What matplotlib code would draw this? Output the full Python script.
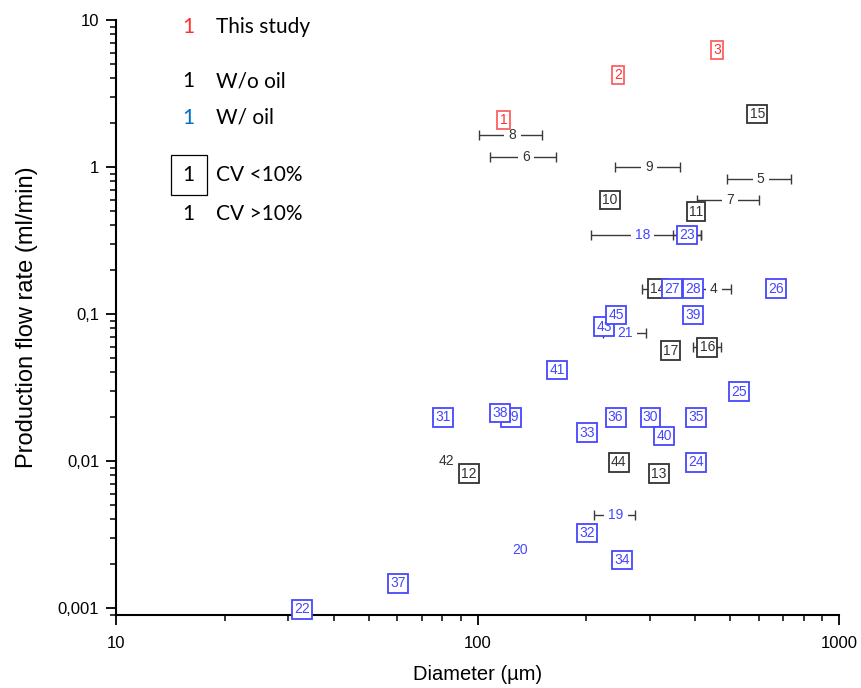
import numpy as np
import matplotlib.pyplot as plt
from matplotlib.patches import Rectangle
from matplotlib.ticker import LogLocator, FixedLocator, FixedFormatter, NullFormatter

# This study (red, boxed)
study_ids = [1, 2, 3]
study_d = [118, 245, 460]
study_q = [2.09, 4.23, 6.25]

# W/o oil, CV < 10% (black, boxed)
nooil_box_ids = [10, 11, 12, 13, 14, 15, 16, 17, 44]
nooil_box_d = [232, 402, 94.5, 317, 316, 594, 432, 342, 246]
nooil_box_q = [0.596, 0.497, 0.0082, 0.0082, 0.149, 2.29, 0.0593, 0.0563, 0.0098]

# W/o oil, CV > 10% (black, plain)
nooil_ids = [4, 5, 6, 7, 8, 9, 42]
nooil_d = [451, 607, 136, 499, 125, 298, 82.3]
nooil_q = [0.149, 0.825, 1.175, 0.596, 1.66, 1.0, 0.00995]

# W/ oil, CV < 10% (blue, boxed)
oil_box_ids = [22, 23, 24, 25, 26, 27, 28, 29, 30, 31, 32, 33, 34, 35, 36,
               37, 38, 39, 40, 41, 43, 45]
oil_box_d = [32.7, 380, 402, 528, 670, 345, 394, 124, 301, 80.4, 201, 201,
             251, 403, 241, 60.3, 115.6, 395, 328, 166, 224, 241.5]
oil_box_q = [0.00098, 0.345, 0.0098, 0.0296, 0.149, 0.149, 0.149, 0.0198,
             0.0198, 0.0198, 0.00325, 0.0156, 0.00212, 0.0198, 0.0198,
             0.00147, 0.0213, 0.0985, 0.0148, 0.0416, 0.082, 0.0985]

# W/ oil, CV > 10% (blue, plain)
oil_ids = [18, 19, 20, 21]
oil_d = [286, 241.5, 131, 256.5]
oil_q = [0.345, 0.00428, 0.00247, 0.074]

# diameter ranges shown as horizontal bars (µm)
range_ids = [4, 5, 6, 7, 8, 9, 14, 16, 18, 19, 21, 23]
range_lo = [404, 489, 108, 404, 101, 240, 286, 394, 206, 210, 223, 347]
range_hi = [502, 735, 165, 602, 151, 363, 351, 471, 415, 272, 292, 415]

RED = '#ff3030'
BLUE = '#4646ff'
DARK = '#333333'

plt.rcParams['font.family'] = 'sans-serif'
plt.rcParams['font.sans-serif'] = ['Liberation Sans']

fig = plt.figure(figsize=(8.61, 6.88), dpi=100)
ax = fig.add_axes([116 / 861, 1 - 615 / 688, 723 / 861, 595 / 688])

ax.set_xscale('log')
ax.set_yscale('log')
ax.set_xlim(10, 1000)
ax.set_ylim(10 ** -3.0476, 10)

# lookup of every point for the range bars
pos = {}
for ids, d, q in [(study_ids, study_d, study_q),
                  (nooil_box_ids, nooil_box_d, nooil_box_q),
                  (nooil_ids, nooil_d, nooil_q),
                  (oil_box_ids, oil_box_d, oil_box_q),
                  (oil_ids, oil_d, oil_q)]:
    for i, x, y in zip(ids, d, q):
        pos[i] = (x, y)

for i, lo, hi in zip(range_ids, range_lo, range_hi):
    x, y = pos[i]
    ax.errorbar([x], [y], xerr=[[x - lo], [hi - x]], fmt='none',
                ecolor='#3a3a3a', elinewidth=1.0, capsize=3.5, capthick=1.0,
                zorder=2)


def put_labels(ids, d, q, color, boxed, edge=None):
    for i, x, y in zip(ids, d, q):
        if boxed:
            bb = dict(boxstyle='square,pad=0.16', fc='white',
                      ec=edge or color, lw=1.3)
        else:
            bb = dict(boxstyle='square,pad=0.3', fc='white', ec='none')
        ax.text(x, y, str(i), ha='center', va='center', color=color,
                fontsize=10, bbox=bb, zorder=3, clip_on=False)


put_labels(nooil_ids, nooil_d, nooil_q, DARK, False)
put_labels(oil_ids, oil_d, oil_q, BLUE, False)
put_labels(nooil_box_ids, nooil_box_d, nooil_box_q, DARK, True)
put_labels(oil_box_ids, oil_box_d, oil_box_q, BLUE, True)
put_labels(study_ids, study_d, study_q, RED, True, edge='#ff6060')

# axes styling
for side in ['top', 'right']:
    ax.spines[side].set_visible(False)
for side in ['left', 'bottom']:
    ax.spines[side].set_linewidth(1.5)

ax.xaxis.set_major_locator(FixedLocator([10, 100, 1000]))
ax.xaxis.set_major_formatter(FixedFormatter(['10', '100', '1000']))
ax.xaxis.set_minor_locator(LogLocator(base=10, subs=np.arange(2, 10)))
ax.xaxis.set_minor_formatter(NullFormatter())
ax.yaxis.set_major_locator(FixedLocator([0.001, 0.01, 0.1, 1, 10]))
ax.yaxis.set_major_formatter(FixedFormatter(['0,001', '0,01', '0,1', '1', '10']))
ax.yaxis.set_minor_locator(LogLocator(base=10, subs=np.arange(2, 10)))
ax.yaxis.set_minor_formatter(NullFormatter())

ax.tick_params(which='major', direction='out', length=7, width=1.3,
               labelsize=12, colors='black', pad=5)
ax.tick_params(axis='x', which='major', pad=8)
ax.tick_params(which='minor', direction='out', length=4, width=1.1)

ax.set_xlabel('Diameter (µm)', fontsize=14.5, labelpad=10)
ax.set_ylabel('Production flow rate (ml/min)', fontsize=17, labelpad=14)

# legend drawn as free text
LEG = ['Lato', 'DejaVu Sans']
lx, tx = 188 / 861, 216 / 861
rows = [(27, RED, 'This study'),
        (81, 'black', 'W/o oil'),
        (118, '#0070c0', 'W/ oil'),
        (175, 'black', 'CV <10%'),
        (214, 'black', 'CV >10%')]
for y, c, txt in rows:
    fy = 1 - y / 688
    fig.text(lx, fy, '1', color=c, fontsize=15, family=LEG,
             ha='center', va='center')
    fig.text(tx, fy, txt, color='black', fontsize=15, family=LEG,
             ha='left', va='center')
fig.patches.append(Rectangle((171 / 861, 1 - 195 / 688), 36 / 861, 40 / 688,
                             transform=fig.transFigure, fill=False,
                             ec='black', lw=0.9))

fig.savefig('out.png', dpi=100)
